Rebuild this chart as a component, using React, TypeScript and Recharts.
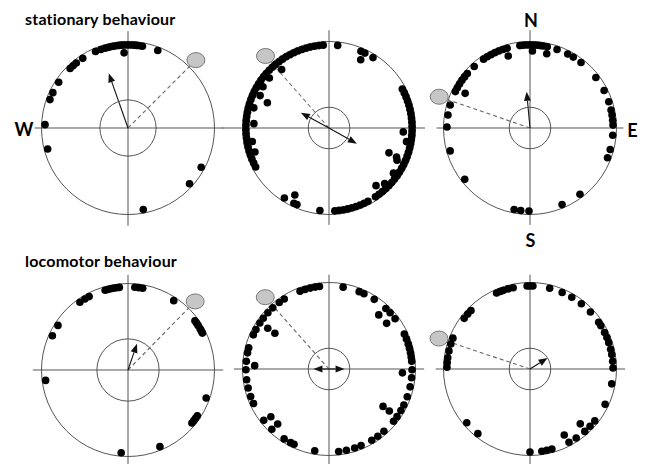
import React from 'react';
import { ScatterChart, Scatter, XAxis, YAxis, ReferenceLine, ReferenceDot } from 'recharts';

// dot bearings in degrees, clockwise from north; rim dots sit on the circle
const rim1 = [-19, -16, -14, -12, -10, -8, -6, -4, -2, 0, 2, 4, 6, 8, 10, -23, 21, -33, -38.5, -41.4, -44.2, -56.6, -64.8, -70, -87.7, -104.7, 118.2, 132.2, 169.4];
const inner1: [number, number][] = [[-3, 0.87]];

const rim2 = [6, 22.6, 25.6, 32,
  -4, -7, -10, -13, -16, -19, -22, -25, -28, -31, -34, -37, -40, -43, -46, -49, -52, -55, -58, -61, -64, -67, -70,
  -73, -76, -79, -82, -85, -88, -91, -94, -97, -100, -103, -106, -109, -112, -115, -118,
  62, 65, 68, 71, 74, 77, 80, 83, 86, 89, 92, 95, 98, 101, 104, 107, 110, 113, 116, 119, 122, 125, 128, 131, 134, 137, 140, 143, 146,
  152, 155, 158, 161, 164, 167, 170, 173, 176,
  186.3, 202.7, 205, 212.5];
const inner2: [number, number][] = [[-39, 0.87], [-64.8, 0.88], [-67.7, 0.77], [-86.7, 0.87], [24.9, 0.87], [93, 0.86], [112.5, 0.75],
  [113.3, 0.85], [115.3, 0.87], [140.8, 0.86], [207, 0.87], [-50, 0.9], [-58, 0.9], [-75, 0.9], [-100, 0.9], [-108, 0.9],
  [100, 0.91], [125, 0.91], [135, 0.91]];

const rim3 = [-7, -5, -3, -1, 1, 3, 5, 7, 9, 12, 19, 27, 31.4, 37.9, 52.5, 63.2, 71.6, 77.5, 81, 84.6, 88, 95, 105, 111, 143, 157.3,
  180.7, 186.4, 191, 231.8, 254, -89.3, -81, -73.9, -64, -61, -58, -55, -52, -49, -42.2, -34, -31, -28, -25, -22, -19, -16];
const inner3: [number, number][] = [[1.8, 0.89], [12.7, 0.88], [-61.9, 0.85], [-16.8, 0.87]];

const rim4 = [-16, -14, -12, -10, -8, -6, 4.7, 7.5, 10.2, 33.4, 53.7, 55.6, 57.5, 60.2, 62, 63.6, 109.7, 123.4, 125.6, 127.6, 129.7,
  157.4, 184.7, -97.2, -65.6, -57.5, -35.4, -31.3, -27.9];
const inner4: [number, number][] = [];

const rim5 = [-20.4, -16.8, -13, -9.5, -6.6, 9.8, 21.3, 24.9, 33, 43.2, 47.4, 52.7, 65.1, 68.8, 72.5, 75.6, 78.8, 81.7, 84.7, 90.5, 96,
  102.4, 109.5, 115.7, 120, 125, 129, 138.6, 144, 149, 157.3, 162, 167.9, 173.3, 189.9, 204.9, 207.5, 212.7, 223.5, 231.8, 245.4,
  250.6, 256.8, 262.6, 269.5, -84.7, -78.8, -75.2, -65.7, -61.6, -56.4, -52.3, -47.4, -42.6, -36.8, -32.6];
const inner5: [number, number][] = [[42.6, 0.85], [51.6, 0.85], [93, 0.85], [124.7, 0.76], [124.9, 0.85], [230.6, 0.87], [223, 0.87],
  [-87.4, 0.86], [-56.4, 0.85], [-56.5, 0.75]];

const rim6 = [-23.7, -21, -18.9, -15.3, -11.7, -2, 0, 2, 13.7, 22.8, 30.2, 38.2, 46.7, 55.8, 58.6, 63.9, 67.8, 71.5, 76.3, 79.9, 84.6,
  89.3, 100.3, 115.2, 128.7, 133.7, 138.7, 146.2, 152, 164.7, 168.3, 171.8, 180, 218.9, 229.6, -88.8, -85.5, -82.2, -77.4, -72.5,
  -68.2, -52.4, -48.6, -45.3];
const inner6: [number, number][] = [[137.5, 0.86], [152.6, 0.86]];

// mean vectors (bearing, length as fraction of radius)
const arrows1 = [{ angle: -19.4, length: 0.67 }];
const arrows2 = [{ angle: -61.5, length: 0.37 }, { angle: 119.5, length: 0.37 }];
const arrows3 = [{ angle: -5.3, length: 0.42 }];
const arrows4 = [{ angle: 18.9, length: 0.32 }];
const arrows5 = [{ angle: -90, length: 0.18 }, { angle: 90, length: 0.18 }];
const arrows6 = [{ angle: 57.6, length: 0.24 }];

// bearing of the grey target marker, and radius of the inner circle
const targets = [45, -41.4, -71, 44.4, -41.6, -71.5];
const refRadius = [0.325, 0.24, 0.24, 0.36, 0.24, 0.24];

const SIZE = 240;
const RADIUS_PX = 86.5;
const LIM = SIZE / 2 / RADIUS_PX;
const RIM_R = 0.96;

const polar = (angle: number, r: number) => {
  const t = (angle * Math.PI) / 180;
  return { x: r * Math.sin(t), y: r * Math.cos(t) };
};

const DotShape = (p: any) => <circle cx={p.cx} cy={p.cy} r={3.8} fill="#000" />;

const EllipseShape = (p: any) => (
  <ellipse cx={p.cx} cy={p.cy} rx={9} ry={7.5} fill="#c6c6c6" stroke="#7a7a7a" strokeWidth={1} />
);

const ArrowShape = (p: any) => {
  const { x1, y1, x2, y2 } = p;
  const a = Math.atan2(y2 - y1, x2 - x1);
  const L = 9;
  const W = 3.5;
  const bx = x2 - L * Math.cos(a);
  const by = y2 - L * Math.sin(a);
  const pts = `${x2},${y2} ${bx - W * Math.sin(a)},${by + W * Math.cos(a)} ${bx + W * Math.sin(a)},${by - W * Math.cos(a)}`;
  return (
    <g>
      <line x1={x1} y1={y1} x2={bx} y2={by} stroke="#111" strokeWidth={1.1} />
      <polygon points={pts} fill="#111" />
    </g>
  );
};

type PanelProps = {
  cx: number;
  cy: number;
  rim: number[];
  inner: [number, number][];
  arrows: { angle: number; length: number }[];
  target: number;
  refR: number;
  ext: number[];
};

const Panel = ({ cx, cy, rim, inner, arrows, target, refR, ext }: PanelProps) => {
  const dots = [...rim.map((a) => polar(a, RIM_R)), ...inner.map(([a, r]) => polar(a, r))];
  const tgt = polar(target, 1.11);
  const dashEnd = polar(target, 1.01);
  return (
    <div style={{ position: 'absolute', left: cx - SIZE / 2, top: cy - SIZE / 2 }}>
      <ScatterChart width={SIZE} height={SIZE} margin={{ top: 0, right: 0, bottom: 0, left: 0 }}>
        <XAxis type="number" dataKey="x" domain={[-LIM, LIM]} hide allowDataOverflow />
        <YAxis type="number" dataKey="y" domain={[-LIM, LIM]} hide allowDataOverflow />
        <ReferenceLine segment={[{ x: -ext[0], y: 0 }, { x: ext[1], y: 0 }]} stroke="#555" strokeWidth={1} />
        <ReferenceLine segment={[{ x: 0, y: ext[2] }, { x: 0, y: -ext[3] }]} stroke="#555" strokeWidth={1} />
        <ReferenceDot x={0} y={0} r={RADIUS_PX} fill="none" stroke="#555" strokeWidth={1} />
        <ReferenceDot x={0} y={0} r={refR * RADIUS_PX} fill="none" stroke="#555" strokeWidth={1} />
        <ReferenceLine segment={[{ x: 0, y: 0 }, dashEnd]} stroke="#666" strokeWidth={1.1} strokeDasharray="4 3" />
        {arrows.map((a, i) => (
          <ReferenceLine key={i} segment={[{ x: 0, y: 0 }, polar(a.angle, a.length)]} shape={ArrowShape} />
        ))}
        <ReferenceDot x={tgt.x} y={tgt.y} r={8} shape={EllipseShape} />
        <Scatter data={dots} dataKey="y" shape={DotShape} isAnimationActive={false} />
      </ScatterChart>
    </div>
  );
};

const Label = ({ x, y, text, size, center }: { x: number; y: number; text: string; size: number; center?: boolean }) => (
  <div
    style={{
      position: 'absolute',
      left: x,
      top: y,
      transform: center ? 'translate(-50%, -50%)' : 'translate(0, -50%)',
      fontFamily: 'Lato, "Noto Sans", sans-serif',
      fontWeight: 700,
      fontSize: size,
      lineHeight: 1,
      letterSpacing: center ? 0 : 0.2,
      color: '#000',
      whiteSpace: 'nowrap',
    }}
  >
    {text}
  </div>
);

const App = () => {
  return (
    <div style={{ position: 'absolute', left: 0, top: 0, width: 648, height: 464, overflow: 'hidden', background: '#fff' }}>
      <Panel cx={128} cy={127.5} rim={rim1} inner={inner1} arrows={arrows1} target={targets[0]} refR={refRadius[0]} ext={[1.08, 1.1, 1.12, 1.13]} />
      <Panel cx={329} cy={128} rim={rim2} inner={inner2} arrows={arrows2} target={targets[1]} refR={refRadius[1]} ext={[1.24, 1.11, 1.13, 1.12]} />
      <Panel cx={529.5} cy={127.5} rim={rim3} inner={inner3} arrows={arrows3} target={targets[2]} refR={refRadius[2]} ext={[1.08, 1.08, 1.13, 1.12]} />
      <Panel cx={128} cy={369.5} rim={rim4} inner={inner4} arrows={arrows4} target={targets[3]} refR={refRadius[3]} ext={[1.1, 1.1, 1.1, 1.38]} />
      <Panel cx={329} cy={369} rim={rim5} inner={inner5} arrows={arrows5} target={targets[4]} refR={refRadius[4]} ext={[1.1, 1.1, 1.09, 1.38]} />
      <Panel cx={530} cy={369} rim={rim6} inner={inner6} arrows={arrows6} target={targets[5]} refR={refRadius[5]} ext={[1.09, 1.1, 1.09, 1.38]} />
      <Label x={25} y={18.5} text="stationary behaviour" size={16} />
      <Label x={25} y={261} text="locomotor behaviour" size={16} />
      <Label x={24} y={128.5} text="W" size={18} center />
      <Label x={531} y={20} text="N" size={18} center />
      <Label x={632.5} y={130} text="E" size={18} center />
      <Label x={530.5} y={240} text="S" size={18} center />
    </div>
  );
};

export default App;
